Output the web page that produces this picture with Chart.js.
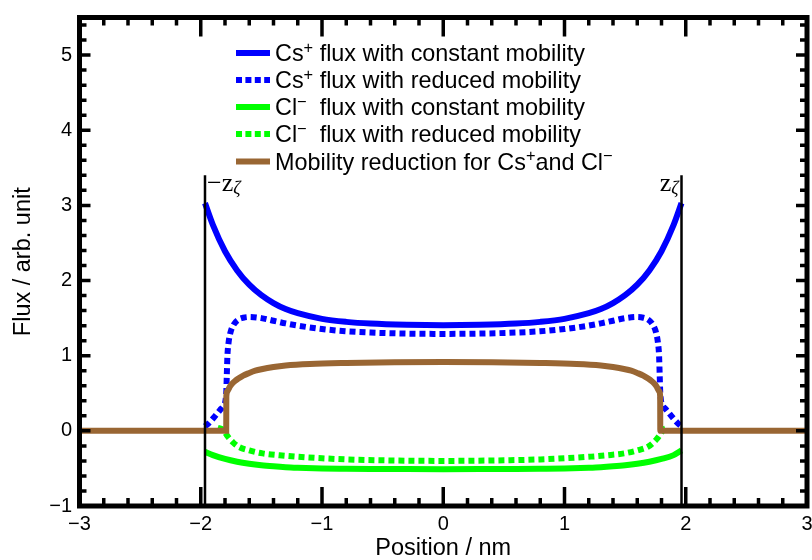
<!DOCTYPE html>
<html>
<head>
<meta charset="utf-8">
<script src="https://cdn.jsdelivr.net/npm/chart.js@4/dist/chart.umd.min.js"></script>
<style>
  html, body { margin: 0; padding: 0; background: #fff; }
  canvas { display: block; }
</style>
</head>
<body>
<canvas id="chart" width="812" height="560"></canvas>
<script>
const FONT = '"Liberation Sans", Arial, sans-serif'

// tick labels
const xTicks = [-3, -2, -1, 0, 1, 2, 3]
const yTicks = [-1, 0, 1, 2, 3, 4, 5]

// legend labels (^ marks a superscript character)
const seriesLabels = [
  'Cs^+ flux with constant mobility',
  'Cs^+ flux with reduced mobility',
  'Cl^−  flux with constant mobility',
  'Cl^−  flux with reduced mobility',
  'Mobility reduction for Cs^+and Cl^−'
]

// Cs+ with constant mobility
const csConstX = [-1.965, -1.9, -1.8, -1.7, -1.6, -1.5, -1.4, -1.3, -1.2, -1.0, -0.8, -0.6, -0.3, 0,
  0.3, 0.6, 0.8, 1.0, 1.2, 1.3, 1.4, 1.5, 1.6, 1.7, 1.8, 1.9, 1.965]
const csConstY = [3.03, 2.74, 2.39, 2.135, 1.945, 1.805, 1.70, 1.62, 1.565, 1.49, 1.45, 1.427, 1.411, 1.405,
  1.411, 1.427, 1.45, 1.49, 1.565, 1.62, 1.70, 1.805, 1.945, 2.135, 2.39, 2.74, 3.03]

// Cs+ with reduced mobility
const csRedX = [-1.965, -1.935, -1.89, -1.84, -1.81, -1.79, -1.785, -1.78, -1.77, -1.755, -1.73, -1.69,
  -1.65, -1.6, -1.5, -1.4, -1.3, -1.2, -1.0, -0.8, -0.6, -0.3, 0,
  0.3, 0.6, 0.8, 1.0, 1.2, 1.3, 1.4, 1.5, 1.6, 1.65, 1.69, 1.73, 1.755, 1.77, 1.78, 1.785, 1.79, 1.81,
  1.84, 1.89, 1.935, 1.965]
const csRedY = [0.06, 0.10, 0.18, 0.28, 0.34, 0.50, 0.75, 1.00, 1.18, 1.31, 1.41, 1.48,
  1.505, 1.515, 1.50, 1.465, 1.43, 1.40, 1.355, 1.325, 1.308, 1.294, 1.29,
  1.294, 1.308, 1.325, 1.355, 1.40, 1.43, 1.465, 1.50, 1.515, 1.505, 1.48, 1.41, 1.31, 1.18, 1.00, 0.75, 0.50, 0.34,
  0.28, 0.18, 0.10, 0.06]

// Cl- with constant mobility
const clConstX = csConstX
const clConstY = [-0.28, -0.323, -0.374, -0.411, -0.438, -0.458, -0.472, -0.483, -0.49, -0.50, -0.504, -0.507, -0.509, -0.51,
  -0.509, -0.507, -0.504, -0.50, -0.49, -0.483, -0.472, -0.458, -0.438, -0.411, -0.374, -0.323, -0.26]

// Cl- with reduced mobility
const clRedX = [-1.86, -1.82, -1.80, -1.78, -1.76, -1.73, -1.69, -1.6, -1.49, -1.35, -1.22, -1.0, -0.8, -0.5, 0,
  0.5, 0.8, 1.0, 1.22, 1.35, 1.49, 1.6, 1.69, 1.73, 1.76, 1.78, 1.80, 1.82, 1.86]
const clRedY = [0.04, 0.02, -0.02, -0.07, -0.11, -0.16, -0.21, -0.26, -0.30, -0.325, -0.343, -0.365, -0.38, -0.392, -0.40,
  -0.392, -0.38, -0.365, -0.343, -0.325, -0.30, -0.26, -0.21, -0.16, -0.11, -0.07, -0.02, 0.02, 0.04]

// mobility reduction
const mobX = [-3, -1.79, -1.789, -1.78, -1.76, -1.74, -1.72, -1.69, -1.65, -1.6, -1.55, -1.5, -1.4, -1.3, -1.1, -0.8, -0.4, 0,
  0.4, 0.8, 1.1, 1.3, 1.4, 1.5, 1.55, 1.6, 1.65, 1.69, 1.72, 1.74, 1.76, 1.78, 1.789, 1.79, 3]
const mobY = [0, 0, 0.46, 0.53, 0.59, 0.63, 0.66, 0.695, 0.735, 0.77, 0.80, 0.82, 0.85, 0.87, 0.89, 0.903, 0.912, 0.915,
  0.912, 0.903, 0.89, 0.87, 0.85, 0.82, 0.80, 0.77, 0.735, 0.695, 0.66, 0.63, 0.59, 0.53, 0.46, 0, 0]

// boundaries -z and z
const zetaX = [-1.965, 1.965]
const zetaY = [-1, 3.4]

const pts = (xs, ys) => xs.map((x, i) => ({ x, y: ys[i] }))

const BLUE = '#0000ff'
const GREEN = '#00ff00'
const BROWN = '#996633'

const series = [
  { data: pts(csConstX, csConstY), borderColor: BLUE, borderDash: [], order: 4 },
  { data: pts(csRedX, csRedY), borderColor: BLUE, borderDash: [6, 4], order: 3 },
  { data: pts(clConstX, clConstY), borderColor: GREEN, borderDash: [], order: 2 },
  { data: pts(clRedX, clRedY), borderColor: GREEN, borderDash: [6, 4], order: 1 },
  { data: pts(mobX, mobY), borderColor: BROWN, borderDash: [], order: 0 }
].map((d, i) => ({
  ...d,
  label: seriesLabels[i],
  borderWidth: 6,
  borderCapStyle: 'butt',
  pointRadius: 0,
  fill: false,
  cubicInterpolationMode: 'monotone'
}))

const zetaLines = zetaX.map(x => ({
  label: 'zeta',
  data: pts([x, x], zetaY),
  borderColor: '#000',
  borderWidth: 2.5,
  pointRadius: 0,
  order: -1
}))

// draw rich text: parts separated by ^x superscripts
function drawRich(ctx, text, x, y, size) {
  const parts = text.split(/\^(.)/)
  parts.forEach((p, i) => {
    if (!p) return
    const sup = i % 2 === 1
    ctx.font = (sup ? size * 0.7 : size) + 'px ' + FONT
    ctx.fillText(p, x, sup ? y - size * 0.36 : y)
    x += ctx.measureText(p).width
  })
}

const framePlugin = {
  id: 'frame',
  afterDatasetsDraw(chart) {
    const { ctx, chartArea: a, scales: { x, y } } = chart
    ctx.save()
    ctx.strokeStyle = '#000'
    ctx.fillStyle = '#000'

    // inward ticks, all four sides
    ctx.lineWidth = 3.5
    ctx.beginPath()
    for (let v = -3; v <= 3.001; v += 0.2) {
      const px = x.getPixelForValue(v)
      const major = Math.abs(v - Math.round(v)) < 1e-6
      const len = major ? 19 : 8
      ctx.moveTo(px, a.bottom); ctx.lineTo(px, a.bottom - len)
      ctx.moveTo(px, a.top); ctx.lineTo(px, a.top + len)
    }
    for (let v = -1; v <= 5.501; v += 0.2) {
      const py = y.getPixelForValue(v)
      const major = Math.abs(v - Math.round(v)) < 1e-6
      const len = major ? 11 : 7
      ctx.moveTo(a.left, py); ctx.lineTo(a.left + len, py)
      ctx.moveTo(a.right, py); ctx.lineTo(a.right - len, py)
    }
    ctx.stroke()

    // frame
    ctx.lineWidth = 5
    ctx.strokeRect(a.left, a.top, a.right - a.left, a.bottom - a.top)

    // zeta labels
    const lx = x.getPixelForValue(zetaX[0])
    const rx = x.getPixelForValue(zetaX[1])
    const ty = y.getPixelForValue(zetaY[1])
    const zFont = '26px "Liberation Serif", serif'
    const gFont = 'italic 18px "Liberation Serif", serif'
    ctx.textBaseline = 'alphabetic'
    ctx.textAlign = 'left'
    ctx.font = zFont
    ctx.fillText('−z', lx + 2, ty + 16)
    const w = ctx.measureText('−z').width
    const zw = ctx.measureText('z').width
    ctx.font = gFont
    ctx.fillText('ζ', lx + 2 + w, ty + 19)
    const gw = ctx.measureText('ζ').width
    ctx.font = zFont
    ctx.fillText('z', rx - 3 - gw - zw, ty + 16)
    ctx.font = gFont
    ctx.fillText('ζ', rx - 3 - gw, ty + 19)

    // legend
    const rows = [61, 88, 115, 142, 169.5]
    chart.data.datasets.slice(0, 5).forEach((ds, i) => {
      const cy = rows[i] - 8
      ctx.strokeStyle = ds.borderColor
      ctx.lineWidth = 6
      ctx.lineCap = 'butt'
      ctx.setLineDash(ds.borderDash.length ? [6, 3.4] : [])
      ctx.beginPath()
      ctx.moveTo(236, cy); ctx.lineTo(270, cy)
      ctx.stroke()
      ctx.setLineDash([])
      ctx.fillStyle = '#000'
      drawRich(ctx, ds.label, 275, rows[i], 23.4)
    })
    ctx.restore()
  }
}

const fmt = v => String(v).replace('-', '−')

new Chart(document.getElementById('chart'), {
  type: 'line',
  data: { datasets: [...series, ...zetaLines] },
  plugins: [framePlugin],
  options: {
    responsive: false,
    animation: false,
    layout: { padding: { top: 17.5, right: 5, left: 0, bottom: 0 } },
    plugins: { legend: { display: false }, tooltip: { enabled: false } },
    scales: {
      x: {
        type: 'linear',
        min: -3,
        max: 3,
        afterBuildTicks: s => { s.ticks = xTicks.map(v => ({ value: v })) },
        afterFit: s => { s.height = 54; s.paddingLeft = 0; s.paddingRight = 0 },
        ticks: { color: '#000', padding: 6, maxRotation: 0, autoSkip: false,
          font: { family: FONT, size: 20 }, callback: v => fmt(v) },
        grid: { display: false, drawTicks: false },
        border: { display: false },
        title: { display: true, text: 'Position / nm', color: '#000',
          font: { family: FONT, size: 23.5 }, padding: { top: 0, bottom: -3 } }
      },
      y: {
        type: 'linear',
        min: -1,
        max: 5.5,
        afterBuildTicks: s => { s.ticks = yTicks.map(v => ({ value: v })) },
        afterFit: s => { s.width = 79.5; s.paddingTop = 0; s.paddingBottom = 0 },
        ticks: { color: '#000', padding: 7.5, autoSkip: false,
          font: { family: FONT, size: 20 }, callback: v => fmt(v) },
        grid: { display: false, drawTicks: false },
        border: { display: false },
        title: { display: true, text: 'Flux / arb. unit', color: '#000',
          font: { family: FONT, size: 23.5 }, padding: { top: 9, bottom: 0 } }
      }
    }
  }
})
</script>
</body>
</html>
